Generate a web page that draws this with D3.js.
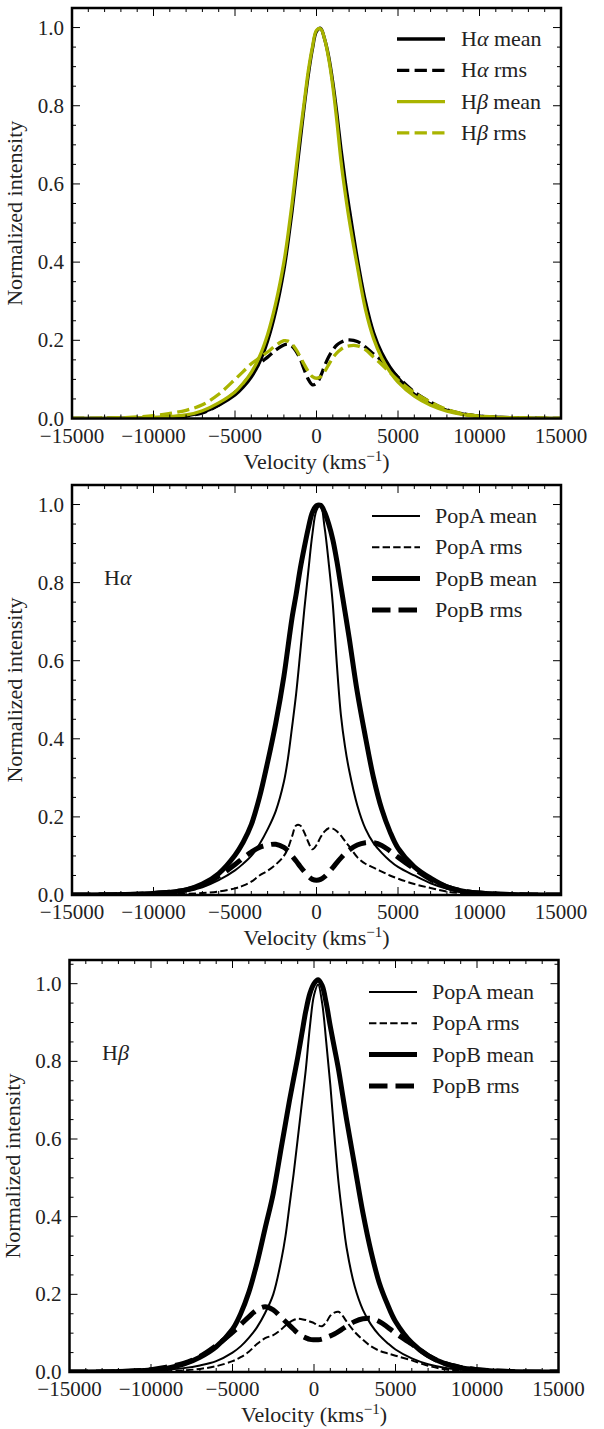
<!DOCTYPE html>
<html><head><meta charset="utf-8">
<script src="https://cdn.jsdelivr.net/npm/d3@7"></script>
<style>
html,body{margin:0;padding:0;background:#fff;}
</style></head>
<body><svg id="c" width="604" height="1429"></svg>
<script>
// ---------- DATA ----------
const velocity = [-15000,-12000,-10000,-9000,-8000,-7000,-6000,-5000,-4500,-4000,-3500,-3000,-2500,-2000,-1750,-1500,-1250,-1000,-750,-500,-250,0,250,500,750,1000,1250,1500,1750,2000,2500,3000,3500,4000,4500,5000,6000,7000,8000,9000,10000,12000,15000];
const xTicks = [-15000,-10000,-5000,0,5000,10000,15000];
const yTicks = [0.0,0.2,0.4,0.6,0.8,1.0];

// Panel 1
const haMean = [0,0.001,0.002,0.004,0.007,0.016,0.034,0.06,0.08,0.106,0.143,0.198,0.275,0.38,0.45,0.53,0.62,0.71,0.80,0.88,0.945,0.99,0.998,0.97,0.925,0.86,0.78,0.69,0.61,0.54,0.41,0.30,0.22,0.168,0.132,0.104,0.062,0.037,0.021,0.011,0.006,0.002,0];
const haRms = [0,0.001,0.002,0.004,0.007,0.014,0.035,0.067,0.088,0.115,0.14,0.157,0.175,0.188,0.19,0.185,0.172,0.152,0.125,0.10,0.086,0.09,0.108,0.135,0.158,0.175,0.188,0.195,0.2,0.201,0.197,0.183,0.165,0.148,0.128,0.106,0.068,0.042,0.022,0.012,0.006,0.002,0];
const hbMean = [0,0.001,0.003,0.005,0.009,0.02,0.04,0.068,0.09,0.118,0.158,0.215,0.295,0.40,0.47,0.55,0.64,0.73,0.81,0.89,0.95,0.993,0.997,0.97,0.92,0.85,0.76,0.66,0.58,0.51,0.39,0.28,0.205,0.155,0.12,0.093,0.057,0.034,0.019,0.01,0.005,0.002,0];
const hbRms = [0,0.002,0.007,0.013,0.021,0.035,0.062,0.10,0.12,0.14,0.155,0.17,0.187,0.199,0.198,0.19,0.176,0.158,0.138,0.12,0.107,0.103,0.107,0.12,0.138,0.155,0.168,0.177,0.183,0.186,0.186,0.176,0.157,0.138,0.118,0.098,0.066,0.042,0.023,0.012,0.006,0.002,0];

// Panel 2 (Halpha)
const haPopAMean = [0,0.001,0.002,0.005,0.01,0.02,0.038,0.063,0.08,0.10,0.13,0.168,0.215,0.29,0.35,0.43,0.515,0.62,0.73,0.83,0.925,0.985,0.998,0.94,0.85,0.745,0.59,0.46,0.38,0.32,0.23,0.17,0.133,0.108,0.088,0.072,0.05,0.03,0.016,0.008,0.004,0.001,0];
const haPopARms = [0,0,0.001,0.002,0.003,0.005,0.009,0.017,0.024,0.034,0.05,0.062,0.078,0.10,0.12,0.15,0.178,0.178,0.16,0.135,0.117,0.128,0.148,0.163,0.171,0.17,0.163,0.152,0.138,0.125,0.097,0.08,0.07,0.06,0.05,0.042,0.028,0.018,0.009,0.004,0.002,0.001,0];
const haPopBMean = [0,0.001,0.004,0.007,0.013,0.028,0.055,0.102,0.135,0.18,0.25,0.34,0.44,0.56,0.635,0.71,0.77,0.835,0.89,0.94,0.98,0.997,0.998,0.98,0.95,0.91,0.855,0.79,0.725,0.66,0.52,0.405,0.30,0.22,0.163,0.12,0.072,0.043,0.021,0.01,0.005,0.001,0];
const haPopBRms = [0,0.001,0.004,0.007,0.013,0.025,0.048,0.078,0.095,0.11,0.122,0.128,0.13,0.122,0.113,0.10,0.087,0.073,0.06,0.048,0.04,0.038,0.04,0.047,0.058,0.07,0.083,0.095,0.106,0.115,0.128,0.134,0.134,0.127,0.113,0.097,0.067,0.04,0.021,0.01,0.005,0.001,0];

// Panel 3 (Hbeta)
const hbPopAMean = [0,0.001,0.003,0.006,0.01,0.017,0.028,0.05,0.066,0.088,0.115,0.152,0.20,0.29,0.35,0.43,0.51,0.60,0.69,0.78,0.89,0.97,0.998,0.95,0.85,0.74,0.61,0.49,0.40,0.32,0.22,0.16,0.122,0.095,0.075,0.058,0.035,0.02,0.011,0.006,0.003,0.001,0];
const hbPopARms = [0,0,0.001,0.002,0.004,0.008,0.015,0.028,0.038,0.052,0.072,0.087,0.095,0.11,0.12,0.128,0.134,0.137,0.136,0.134,0.13,0.126,0.12,0.118,0.128,0.145,0.153,0.155,0.145,0.13,0.103,0.083,0.066,0.055,0.048,0.042,0.03,0.016,0.007,0.003,0.002,0.001,0];
const hbPopBMean = [0,0.001,0.005,0.01,0.02,0.038,0.065,0.11,0.15,0.205,0.28,0.37,0.46,0.58,0.64,0.70,0.755,0.81,0.87,0.93,0.975,1.0,1.01,0.995,0.95,0.89,0.835,0.78,0.715,0.65,0.53,0.41,0.31,0.23,0.175,0.13,0.075,0.042,0.022,0.011,0.006,0.001,0];
const hbPopBRms = [0,0.001,0.006,0.013,0.022,0.04,0.068,0.102,0.122,0.142,0.16,0.168,0.16,0.14,0.13,0.12,0.11,0.10,0.093,0.088,0.084,0.083,0.083,0.085,0.089,0.093,0.098,0.104,0.111,0.118,0.13,0.137,0.138,0.13,0.116,0.10,0.072,0.042,0.022,0.012,0.006,0.001,0];

const legend1 = [["H","α"," mean"],["H","α"," rms"],["H","β"," mean"],["H","β"," rms"]];
const legend2 = [["PopA mean"],["PopA rms"],["PopB mean"],["PopB rms"]];

// ---------- STYLES / LAYOUT ----------
const FONT = '"Liberation Serif"';
const green = "#a9b400";
const panels = [
  {left:72, right:561, top:8, bottom:418.5, ymax:1.05, label:null,
   series:[
     {y:haMean, color:"#000", lw:3.3, dash:null},
     {y:haRms, color:"#000", lw:3.3, dash:"12.3,5.3"},
     {y:hbMean, color:green, lw:3.3, dash:null},
     {y:hbRms, color:green, lw:3.3, dash:"12.3,5.3"}],
   legend:legend1, legX:397, legW:48, legTextX:461, legY0:39},
  {left:72, right:561, top:485, bottom:895, ymax:1.05, label:["H","α"], labelX:104, labelY:578,
   series:[
     {y:haPopAMean, color:"#000", lw:2, dash:null},
     {y:haPopARms, color:"#000", lw:2, dash:"7.4,3.2"},
     {y:haPopBMean, color:"#000", lw:5, dash:null},
     {y:haPopBRms, color:"#000", lw:5, dash:"18.5,8"}],
   legend:legend2, legX:372, legW:48, legTextX:435, legY0:516},
  {left:69.5, right:558.5, top:960, bottom:1372, ymax:1.061, label:["H","β"], labelX:102, labelY:1053,
   series:[
     {y:hbPopAMean, color:"#000", lw:2, dash:null},
     {y:hbPopARms, color:"#000", lw:2, dash:"7.4,3.2"},
     {y:hbPopBMean, color:"#000", lw:5, dash:null},
     {y:hbPopBRms, color:"#000", lw:5, dash:"18.5,8"}],
   legend:legend2, legX:369, legW:48, legTextX:432, legY0:992}
];

const svg = d3.select("#c");
const fmtX = d => (d<0 ? "\u2212" : "") + Math.abs(d);
const fmtY = d => d.toFixed(1);
const txt = (sel) => sel.append("text").style("font-family", FONT).attr("fill", "#222");

panels.forEach((p, pi) => {
  const x = d3.scaleLinear().domain([-15000,15000]).range([p.left,p.right]);
  const y = d3.scaleLinear().domain([0,p.ymax]).range([p.bottom,p.top]);
  const g = svg.append("g");
  const cid = "clip"+pi;
  svg.append("defs").append("clipPath").attr("id",cid).append("rect")
    .attr("x",p.left).attr("y",p.top).attr("width",p.right-p.left).attr("height",p.bottom-p.top);

  const line = d3.line().x((d,i)=>x(velocity[i])).y(d=>y(d)).curve(d3.curveCatmullRom.alpha(0.5));
  const cg = g.append("g").attr("clip-path",`url(#${cid})`);
  p.series.forEach(s => {
    cg.append("path").attr("d", line(s.y)).attr("fill","none")
      .attr("stroke", s.color).attr("stroke-width", s.lw)
      .attr("stroke-dasharray", s.dash).attr("stroke-linejoin","round");
  });

  const tk = g.append("g").attr("stroke","#000").attr("stroke-width",1);
  const xMinor = d3.range(-15000,15001,1000);
  const yMinor = d3.range(0,p.ymax+1e-9,0.05);
  xMinor.forEach(v => {
    const len = (v % 5000 === 0) ? 8 : 4;
    tk.append("line").attr("x1",x(v)).attr("x2",x(v)).attr("y1",p.bottom).attr("y2",p.bottom-len);
    tk.append("line").attr("x1",x(v)).attr("x2",x(v)).attr("y1",p.top).attr("y2",p.top+len);
  });
  yMinor.forEach(v => {
    const major = Math.abs(v*5 - Math.round(v*5)) < 1e-6;
    const len = major ? 8 : 4;
    tk.append("line").attr("x1",p.left).attr("x2",p.left+len).attr("y1",y(v)).attr("y2",y(v));
    tk.append("line").attr("x1",p.right).attr("x2",p.right-len).attr("y1",y(v)).attr("y2",y(v));
  });

  g.append("rect").attr("x",p.left).attr("y",p.top).attr("width",p.right-p.left).attr("height",p.bottom-p.top)
    .attr("fill","none").attr("stroke","#000").attr("stroke-width",2.5);

  xTicks.forEach(d => {
    txt(g).attr("x",x(d)).attr("y",p.bottom+24).attr("text-anchor","middle")
      .attr("font-size",21).text(fmtX(d));
  });
  yTicks.forEach(d => {
    txt(g).attr("x",p.left-8).attr("y",y(d)+7).attr("text-anchor","end")
      .attr("font-size",21).text(fmtY(d));
  });

  const xl = txt(g).attr("x",(p.left+p.right)/2).attr("y",p.bottom+50)
    .attr("text-anchor","middle").attr("font-size",22);
  xl.append("tspan").text("Velocity (kms");
  xl.append("tspan").attr("dy",-8).attr("font-size",15).text("\u22121");
  xl.append("tspan").attr("dy",8).text(")");
  txt(g).attr("transform",`translate(${p.left-50},${(p.top+p.bottom)/2}) rotate(-90)`)
    .attr("text-anchor","middle").attr("font-size",22).text("Normalized intensity");

  if (p.label) {
    const t = txt(g).attr("x",p.labelX).attr("y",p.labelY+7).attr("font-size",22);
    t.append("tspan").text(p.label[0]);
    t.append("tspan").attr("font-style","italic").text(p.label[1]);
  }

  p.legend.forEach((item, i) => {
    const s = p.series[i];
    const ly = p.legY0 + i*31.3;
    g.append("line").attr("x1",p.legX).attr("x2",p.legX+p.legW).attr("y1",ly).attr("y2",ly)
      .attr("stroke",s.color).attr("stroke-width",s.lw).attr("stroke-dasharray",s.dash);
    const t = txt(g).attr("x",p.legTextX).attr("y",ly+7).attr("font-size",22);
    if (item.length === 3) {
      t.append("tspan").text(item[0]);
      t.append("tspan").attr("font-style","italic").text(item[1]);
      t.append("tspan").text(item[2]);
    } else {
      t.text(item[0]);
    }
  });
});
</script></body></html>
